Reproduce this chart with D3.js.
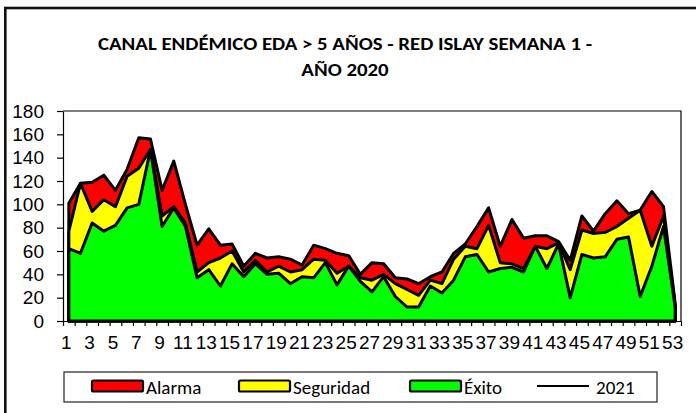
<!DOCTYPE html>
<html>
<head>
<meta charset="utf-8">
<script src="https://cdn.jsdelivr.net/npm/d3@7/dist/d3.min.js"></script>
<style>
  body { margin: 0; background: #fff; }
  svg { display: block; }
</style>
</head>
<body>
<script>
// semanas epidemiologicas 1..53
const semanas = d3.range(1, 54);

const alarma = [101,118,119,125,112,130,157,156,112,137,100,65,79,65,66,47,58,54,55,53,48,65,62,58,56,40,50,49,37,36,32,38,42,58,66,81,97,64,87,71,73,73,68,52,90,77,92,103,92,95,111,98,15];
const seguridad = [77,118,94,104,98,124,131,147,90,98,84,42,50,54,60,42,52,42,47,42,44,53,52,41,47,37,35,40,32,27,22,35,32,53,64,62,82,50,49,45,64,62,67,44,78,75,76,81,88,95,64,90,13];
const exito = [62,58,84,77,82,97,100,147,81,97,81,37,44,30,49,38,49,40,41,32,38,37,50,31,47,34,25,38,21,12,12,30,24,35,55,57,42,45,46,42,64,45,66,20,57,54,55,70,72,21,47,81,12];
const serie2021 = []; // sin datos visibles

const yTicks = d3.range(0, 181, 20);
const xLabels = semanas.filter(d => d % 2 === 1);

const titulo = ["CANAL ENDÉMICO EDA > 5 AÑOS - RED ISLAY SEMANA 1 -", "AÑO 2020"];
const leyenda = [
  {name: "Alarma", color: "#ff0000"},
  {name: "Seguridad", color: "#ffff00"},
  {name: "Éxito", color: "#00ff00"},
  {name: "2021", color: null}
];

const width = 696, height = 413;
const plot = {left: 63, right: 681, top: 111, bottom: 321};

const svg = d3.select("body").append("svg")
  .attr("width", width)
  .attr("height", height);

svg.append("rect")
  .attr("width", width).attr("height", height)
  .attr("fill", "#fff");

// borde del grafico (cortado a la derecha y abajo)
svg.append("rect")
  .attr("x", 5.3).attr("y", 8)
  .attr("width", 720).attr("height", 430)
  .attr("fill", "none")
  .attr("stroke", "#111")
  .attr("stroke-width", 2.6);

// titulo
const tt = svg.append("g")
  .attr("font-family", "Carlito, Calibri, Lato, sans-serif")
  .attr("font-weight", "bold")
  .attr("font-size", 17.5)
  .attr("text-anchor", "middle");
const t1 = tt.append("text").attr("x", 345).attr("y", 50).text(titulo[0]);
const t2 = tt.append("text").attr("x", 345).attr("y", 76).text(titulo[1]);
const ratio = 494 / t1.node().getComputedTextLength();
t1.attr("textLength", 494).attr("lengthAdjust", "spacingAndGlyphs");
t2.attr("textLength", t2.node().getComputedTextLength() * ratio).attr("lengthAdjust", "spacingAndGlyphs");

const x = d3.scalePoint()
  .domain(semanas)
  .range([plot.left, plot.right])
  .padding(0.5);

const xEdge = d3.scaleLinear()
  .domain([0, semanas.length])
  .range([plot.left, plot.right]);

const y = d3.scaleLinear()
  .domain([0, 180])
  .range([plot.bottom, plot.top]);

// borde del area de trazado
svg.append("path")
  .attr("d", `M${plot.left},${plot.top}H${plot.right}V${plot.bottom}`)
  .attr("fill", "none")
  .attr("stroke", "#000")
  .attr("stroke-width", 1.2);

// areas del canal endemico
const area = d3.area()
  .x((d, i) => x(semanas[i]))
  .y0(y(0))
  .y1(d => y(d));

[[alarma, "#ff0000"], [seguridad, "#ffff00"], [exito, "#00ff00"]].forEach(([vals, col]) => {
  svg.append("path")
    .datum(vals)
    .attr("d", area)
    .attr("fill", col)
    .attr("stroke", "#000")
    .attr("stroke-width", 3)
    .attr("stroke-linejoin", "round");
});

// linea 2021
svg.append("path")
  .datum(serie2021)
  .attr("d", d3.line().x((d, i) => x(semanas[i])).y(d => y(d)))
  .attr("fill", "none")
  .attr("stroke", "#000")
  .attr("stroke-width", 2);

// eje Y
const yAxis = svg.append("g")
  .attr("transform", `translate(${plot.left},0)`)
  .call(d3.axisLeft(y).tickValues(yTicks).tickSize(6).tickSizeOuter(0).tickPadding(13));
yAxis.selectAll("text")
  .attr("font-family", "Arial, 'Liberation Sans', sans-serif")
  .attr("font-size", 19)
  .attr("fill", "#000");
yAxis.selectAll("line, path").attr("stroke", "#000").attr("stroke-width", 1.2);

// eje X: marcas entre semanas
const xTicks = svg.append("g")
  .attr("transform", `translate(0,${plot.bottom})`)
  .call(d3.axisBottom(xEdge).tickValues(d3.range(0, semanas.length + 1)).tickSize(5).tickSizeOuter(0).tickFormat(""));
xTicks.selectAll("line, path").attr("stroke", "#000").attr("stroke-width", 1.2);

// eje X: etiquetas
const xAxis = svg.append("g")
  .attr("transform", `translate(-3,${plot.bottom})`)
  .call(d3.axisBottom(x).tickValues(xLabels).tickSize(0).tickPadding(15));
xAxis.select(".domain").remove();
xAxis.selectAll("text")
  .attr("font-family", "Arial, 'Liberation Sans', sans-serif")
  .attr("font-size", 19)
  .attr("fill", "#000");

// leyenda
const lg = svg.append("g");
lg.append("rect")
  .attr("x", 64).attr("y", 372)
  .attr("width", 593).attr("height", 30)
  .attr("fill", "#fff")
  .attr("stroke", "#222")
  .attr("stroke-width", 1.2);

const itemX = [92, 239, 410, 537];
const item = lg.selectAll("g.item")
  .data(leyenda)
  .join("g")
  .attr("class", "item")
  .attr("transform", (d, i) => `translate(${itemX[i]},0)`);

item.filter(d => d.color)
  .append("rect")
  .attr("x", 0).attr("y", 380.5)
  .attr("width", 51).attr("height", 11)
  .attr("rx", 1.5)
  .attr("fill", d => d.color)
  .attr("stroke", "#000")
  .attr("stroke-width", 2.2);

item.filter(d => !d.color)
  .append("line")
  .attr("x1", 0).attr("x2", 52)
  .attr("y1", 386).attr("y2", 386)
  .attr("stroke", "#000")
  .attr("stroke-width", 2);

item.append("text")
  .attr("x", d => d.color ? 54 : 59)
  .attr("y", 394)
  .attr("font-family", "Carlito, Calibri, Lato, sans-serif")
  .attr("font-size", 19)
  .attr("fill", "#000")
  .text(d => d.name);
</script>
</body>
</html>
